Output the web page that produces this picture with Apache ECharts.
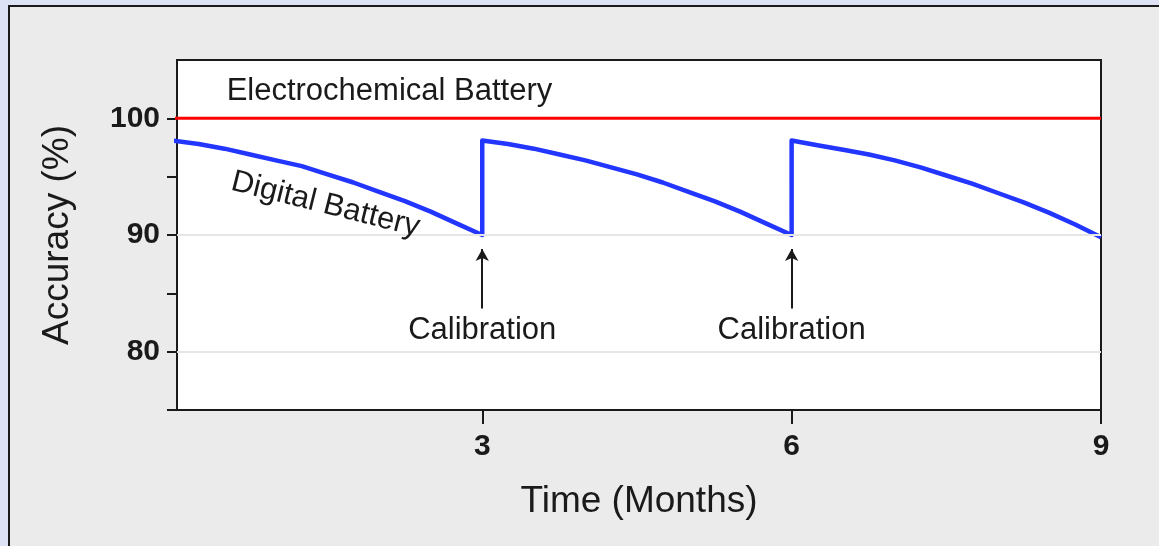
<!DOCTYPE html>
<html>
<head>
<meta charset="utf-8">
<title>Accuracy over time</title>
<script src="https://cdn.jsdelivr.net/npm/echarts@6/dist/echarts.min.js"></script>
<style>
    html, body { margin: 0; padding: 0; }
    body { width: 1159px; height: 546px; background: #dde3f4; position: relative; overflow: hidden; }
    #frame {
        position: absolute; left: 8px; top: 5px; right: 0; bottom: 0;
        background: #ebebeb;
        border-top: 2px solid #1a1a1a;
        border-left: 2px solid #1a1a1a;
    }
    #chart { position: absolute; left: 0; top: 0; width: 1159px; height: 546px; }
</style>
</head>
<body>
<div id="frame"></div>
<div id="chart"></div>
<script>
    // time in months, sampled every quarter month; calibration resets at 3 and 6
    var months = [
        0, 0.25, 0.5, 0.75, 1, 1.25, 1.5, 1.75, 2, 2.25, 2.5, 2.75, 3,
        3, 3.25, 3.5, 3.75, 4, 4.25, 4.5, 4.75, 5, 5.25, 5.5, 5.75, 6,
        6, 6.25, 6.5, 6.75, 7, 7.25, 7.5, 7.75, 8, 8.25, 8.5, 8.75, 9
    ];
    var digitalAccuracy = [
        98.1, 97.8, 97.4, 96.9, 96.4, 95.9, 95.2, 94.5, 93.7, 92.9, 92.0, 91.0, 90.0,
        98.1, 97.8, 97.4, 96.9, 96.4, 95.8, 95.2, 94.5, 93.7, 92.9, 92.0, 91.0, 90.0,
        98.1, 97.7, 97.3, 96.9, 96.4, 95.8, 95.1, 94.4, 93.6, 92.8, 91.9, 90.9, 89.8
    ];
    var electroMonths = [0, 9];
    var electroAccuracy = [100, 100];

    var calibrationMonths = [3, 6];
    var xTicks = [3, 6, 9];
    var yTicks = [75, 80, 85, 90, 95, 100];
    var yLabels = [80, 90, 100];
    var gridValues = [80, 90];

    var font = '"Liberation Sans", Arial, Helvetica, sans-serif';
    var ink = '#1a1a1a';

    var pair = function (xs, ys) {
        var out = [];
        for (var i = 0; i < xs.length; i++) {
            out.push([xs[i], ys[i]]);
        }
        return out;
    };

    var arrows = calibrationMonths.map(function (m) {
        return [
            { coord: [m, 83.7], symbol: 'none' },
            { coord: [m, 88.8], symbol: 'arrow' }
        ];
    });

    var chart = echarts.init(document.getElementById('chart'), null, { renderer: 'canvas' });

    var option = {
        backgroundColor: 'transparent',
        animation: false,
        textStyle: { fontFamily: font },
        grid: {
            left: 177,
            right: 58,
            top: 60,
            bottom: 136,
            show: true,
            backgroundColor: '#ffffff',
            borderColor: ink,
            borderWidth: 2
        },
        xAxis: {
            type: 'value',
            min: 0.04,
            max: 9,
            name: 'Time (Months)',
            nameLocation: 'middle',
            nameGap: 73,
            nameTextStyle: { fontSize: 37, color: ink, fontFamily: font },
            axisLine: { show: true, lineStyle: { color: ink, width: 2 } },
            axisTick: {
                show: true,
                length: 14,
                customValues: xTicks,
                lineStyle: { color: ink, width: 2 }
            },
            axisLabel: {
                customValues: xTicks,
                fontSize: 30,
                fontWeight: 'bold',
                color: ink,
                margin: 22
            },
            splitLine: { show: false }
        },
        yAxis: {
            type: 'value',
            min: 75,
            max: 105,
            interval: 5,
            name: 'Accuracy (%)',
            nameLocation: 'middle',
            nameRotate: 90,
            nameGap: 101,
            nameTextStyle: { fontSize: 37, color: ink, fontFamily: font },
            axisLine: { show: true, lineStyle: { color: ink, width: 2 } },
            axisTick: {
                show: true,
                length: 10,
                customValues: yTicks,
                lineStyle: { color: ink, width: 2 }
            },
            axisLabel: {
                customValues: yLabels,
                fontSize: 30,
                fontWeight: 'bold',
                color: ink,
                margin: 17
            },
            splitLine: { show: false }
        },
        series: [
            {
                name: 'Electrochemical Battery',
                type: 'line',
                z: 2,
                showSymbol: false,
                data: pair(electroMonths, electroAccuracy),
                lineStyle: { color: '#ff0000', width: 3 },
                markLine: {
                    silent: true,
                    symbol: 'none',
                    label: { show: false },
                    lineStyle: { color: '#e6e6e6', width: 2, type: 'solid' },
                    data: gridValues.map(function (v) { return { yAxis: v }; })
                },
                markPoint: {
                    silent: true,
                    symbol: 'circle',
                    symbolSize: 0,
                    data: [{ coord: [2.1, 102.3] }],
                    label: {
                        show: true,
                        position: 'inside',
                        formatter: 'Electrochemical Battery',
                        fontSize: 31,
                        color: ink,
                        fontFamily: font
                    }
                }
            },
            {
                name: 'Digital Battery',
                type: 'line',
                z: 3,
                showSymbol: false,
                smooth: false,
                data: pair(months, digitalAccuracy),
                lineStyle: { color: '#2236ff', width: 4.5, join: 'round' },
                markLine: {
                    silent: true,
                    symbolSize: [10, 12],
                    lineStyle: { color: ink, width: 2, type: 'solid' },
                    label: {
                        show: true,
                        position: 'start',
                        distance: 6,
                        formatter: 'Calibration',
                        fontSize: 31,
                        color: ink,
                        fontFamily: font
                    },
                    data: arrows
                },
                markPoint: {
                    silent: true,
                    symbol: 'circle',
                    symbolSize: 0,
                    data: [{ coord: [1.48, 92.6] }],
                    label: {
                        show: true,
                        position: 'inside',
                        rotate: -14,
                        formatter: 'Digital Battery',
                        fontSize: 31,
                        color: ink,
                        fontFamily: font
                    }
                }
            }
        ]
    };

    chart.setOption(option);
</script>
</body>
</html>
